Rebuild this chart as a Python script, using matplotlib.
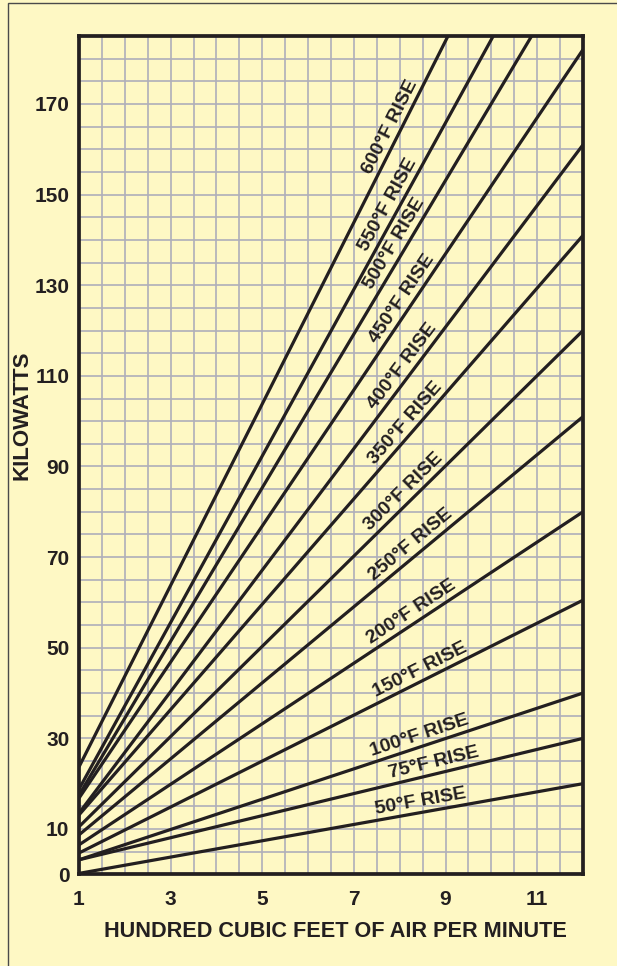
import numpy as np
import matplotlib
matplotlib.use('Agg')
import matplotlib.pyplot as plt
from matplotlib.patches import Rectangle

# Temperature rise of each line (deg F)
RISES = [50, 75, 100, 150, 200, 250, 300, 350, 400, 450, 500, 550, 600]
# Kilowatts at 100 CFM (x=1) and 1200 CFM (x=12)
KW_AT_1 = [0.2, 3.2, 3.2, 4.7, 6.5, 8.7, 10.5, 13.1, 13.5, 16.8, 17.5, 18.8, 23.7]
KW_AT_12 = [20, 30, 40, 60.5, 80, 101, 120, 141, 161, 182, 204, 221, 244]
X_ENDS = [1, 12]

X_TICKS = [1, 3, 5, 7, 9, 11]
Y_TICKS = [0, 10, 30, 50, 70, 90, 110, 130, 150, 170]

# where each label sits along its line (hundred CFM)
LABEL_X = [8.5, 8.8, 8.5, 8.55, 8.4, 8.4, 8.25, 8.3, 8.25, 8.25, 8.1, 7.95, 8.0]

BG = '#FEF8C4'
INK = '#231F20'
GRID = '#AEAEBA'

plt.rcParams['font.family'] = ['Liberation Sans', 'DejaVu Sans']
plt.rcParams['font.weight'] = 'bold'

fig = plt.figure(figsize=(6.17, 9.66), dpi=100)
fig.patch.set_facecolor(BG)

# outer frame (left and top edges visible)
fig.patches.append(Rectangle((8 / 617, -0.5), 2, 0.5 + (966 - 3) / 966,
                             transform=fig.transFigure, fill=False,
                             edgecolor='#4A4A4A', linewidth=1.0))

ax = fig.add_axes([79 / 617, (966 - 874.3) / 966, 504 / 617, 838.3 / 966])
ax.set_facecolor(BG)
ax.set_xlim(1, 12)
ax.set_ylim(0, 185)

ax.set_xticks(X_TICKS)
ax.set_xticks(np.arange(1, 12.01, 0.5), minor=True)
ax.set_yticks(Y_TICKS)
ax.set_yticks(np.arange(0, 185.1, 5), minor=True)
ax.grid(which='both', color=GRID, linewidth=1.2, zorder=0)
ax.set_axisbelow(True)
ax.tick_params(which='both', length=0)
ax.tick_params(axis='x', pad=11, labelsize=15, colors=INK)
ax.tick_params(axis='y', pad=7, labelsize=15, colors=INK)
for lab in ax.get_xticklabels() + ax.get_yticklabels():
    lab.set_fontweight('bold')
for lab in ax.get_yticklabels():
    lab.set_verticalalignment('center_baseline')

for s in ax.spines.values():
    s.set_color(INK)
    s.set_linewidth(2.7)
    s.set_zorder(5)

for rise, k1, k12, lx in zip(RISES, KW_AT_1, KW_AT_12, LABEL_X):
    ax.plot(X_ENDS, [k1, k12], color=INK, linewidth=2.3, solid_capstyle='butt', zorder=3)
    # label rotated along the line, nudged above it
    ly = k1 + (k12 - k1) * (lx - X_ENDS[0]) / (X_ENDS[1] - X_ENDS[0])
    p1 = ax.transData.transform((X_ENDS[0], k1))
    p2 = ax.transData.transform((X_ENDS[1], k12))
    ang = np.degrees(np.arctan2(p2[1] - p1[1], p2[0] - p1[0]))
    off = 8.0
    dx = -np.sin(np.radians(ang)) * off
    dy = np.cos(np.radians(ang)) * off
    ax.annotate(f'{rise}\u00b0F RISE', xy=(lx, ly), xytext=(dx, dy),
                textcoords='offset points', ha='center', va='center',
                rotation=ang, rotation_mode='anchor', fontsize=14,
                fontweight='bold', color=INK, zorder=4)

ax.set_xlabel('HUNDRED CUBIC FEET OF AIR PER MINUTE', fontsize=15.6,
              fontweight='bold', color=INK, va='center')
ax.xaxis.set_label_coords((335 - 79) / 504, (874.3 - 931.7) / 838.3)
ax.set_ylabel('KILOWATTS', fontsize=16, fontweight='bold', color=INK, va='center')
ax.yaxis.set_label_coords((22 - 79) / 504, (874.3 - 415) / 838.3)

fig.savefig('out.png', dpi=100, facecolor=BG)
